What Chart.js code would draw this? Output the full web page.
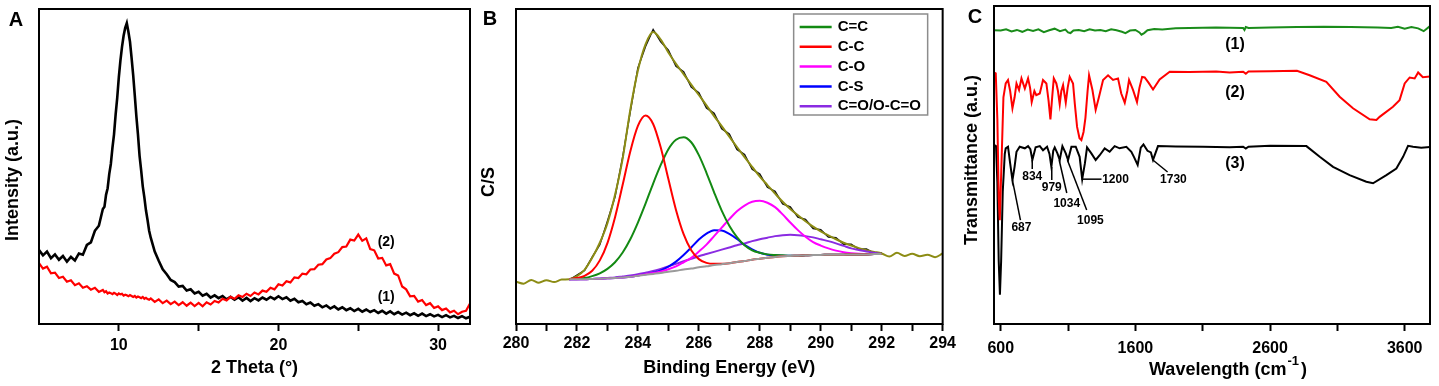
<!DOCTYPE html>
<html>
<head>
<meta charset="utf-8">
<script src="https://cdn.jsdelivr.net/npm/chart.js@4.4.1/dist/chart.umd.min.js"></script>
<style>
  html, body { margin: 0; padding: 0; background: #fff; }
  #wrap { position: relative; width: 1439px; height: 386px; overflow: hidden; }
  canvas { position: absolute; top: 0; }
</style>
</head>
<body>
<div id="wrap">
  <canvas id="chartA" width="480" height="386" style="left:0"></canvas>
  <canvas id="chartB" width="479" height="386" style="left:480px"></canvas>
  <canvas id="chartC" width="480" height="386" style="left:959px"></canvas>
</div>
<script>
// ——— Panel A: XRD patterns ———
const xrdTheta = [
  5, 5.25, 5.5, 5.75, 6, 6.25, 6.5, 6.75, 7, 7.25, 7.5, 7.75, 8, 8.25, 8.5, 8.75, 9,
  9.1, 9.2, 9.3, 9.4, 9.5, 9.6, 9.7, 9.8, 9.9, 10, 10.1, 10.2, 10.3, 10.4, 10.5, 10.6, 10.7, 10.8, 10.9,
  11, 11.1, 11.2, 11.3, 11.4, 11.5, 11.6, 11.7, 11.8, 11.9, 12,
  12.25, 12.5, 12.75, 13, 13.25, 13.5, 13.75, 14, 14.25, 14.5, 14.75, 15, 15.25, 15.5, 15.75, 16,
  16.25, 16.5, 16.75, 17, 17.25, 17.5, 17.75, 18, 18.25, 18.5, 18.75, 19, 19.25, 19.5, 19.75, 20,
  20.25, 20.5, 20.75, 21, 21.25, 21.5, 21.75, 22, 22.25, 22.5, 22.75, 23, 23.25, 23.5, 23.75, 24,
  24.25, 24.5, 24.75, 25, 25.25, 25.5, 25.75, 26, 26.25, 26.5, 26.75, 27, 27.25, 27.5, 27.75, 28,
  28.25, 28.5, 28.75, 29, 29.25, 29.5, 29.75, 30, 30.25, 30.5, 30.75, 31, 31.25, 31.5, 31.75, 32
];
const xrdSample1 = [
  23.5, 21.8, 23.0, 20.9, 22.1, 20.4, 21.6, 19.8, 21.3, 20.2, 22.4, 22.0, 25.1, 25.9, 29.6, 31.2, 36.5,
  37.2, 41.0, 43.1, 47.6, 50.8, 55.9, 60.2, 66.5, 71.8, 78.3, 83.6, 88.0, 91.5, 94.0, 95.5, 92.8, 89.6, 84.5, 79.0,
  72.6, 65.9, 60.1, 53.4, 48.8, 43.7, 40.2, 36.1, 33.0, 29.6, 27.4,
  23.0, 20.1, 17.4, 15.8, 14.0, 13.3, 11.9, 12.1, 10.6, 11.0, 9.7, 10.2, 9.0, 9.6, 8.4, 9.1,
  8.2, 8.9, 7.8, 8.6, 7.7, 8.5, 7.4, 8.3, 7.3, 8.2, 7.5, 8.4, 7.7, 8.6, 7.9, 8.8,
  7.9, 8.5, 7.4, 8.0, 6.9, 7.3, 6.3, 6.8, 5.8, 6.3, 5.3, 5.9, 4.9, 5.6, 4.6, 5.3,
  4.4, 5.0, 4.1, 4.8, 3.9, 4.6, 3.8, 4.4, 3.5, 4.2, 3.3, 4.0, 3.1, 3.8, 3.0, 3.6,
  2.8, 3.4, 2.6, 3.3, 2.5, 3.1, 2.4, 2.9, 2.2, 2.8, 2.1, 2.6, 1.9, 2.5, 1.8, 2.3
];
const xrdSample2 = [
  19.3, 17.6, 18.2, 16.1, 16.3, 14.6, 15.0, 13.4, 13.9, 12.3, 12.9, 11.5, 12.0, 10.9, 11.5, 10.2, 10.8,
  10.1, 10.4, 9.7, 10.0, 9.8, 9.5, 9.9, 9.6, 9.2, 9.7, 9.4, 9.6, 9.0, 9.3, 9.1, 8.8, 9.2, 8.9, 8.6,
  8.9, 8.4, 8.7, 8.5, 8.2, 8.6, 8.0, 8.3, 7.9, 7.7, 8.1,
  7.0, 7.8, 6.6, 7.4, 6.3, 7.1, 6.0, 6.9, 5.8, 6.8, 5.7, 6.7, 5.6, 6.9, 6.2, 7.3,
  6.8, 8.0, 7.5, 8.6, 8.0, 9.1, 8.6, 9.6, 8.9, 10.0, 9.4, 10.6, 10.2, 11.5, 11.0, 12.6,
  12.2, 13.6, 13.2, 14.8, 14.6, 16.0, 15.8, 17.3, 17.4, 18.8, 19.0, 20.5, 20.9, 22.3, 22.8, 24.4,
  24.6, 26.8, 26.5, 28.4, 26.4, 27.2, 23.8, 23.4, 20.8, 21.0, 18.6, 19.0, 16.0, 15.4, 11.9, 11.0,
  8.8, 8.9, 7.1, 7.6, 6.0, 6.6, 5.1, 5.6, 4.4, 4.9, 3.7, 4.2, 3.1, 3.9, 4.2, 6.5
];
const xrdTicks = [10, 15, 20, 25, 30];
const xrdTickLabels = [10, 20, 30];

// ——— Panel B: C1s XPS fit ———
const xpsEnergy = [
  280, 280.25, 280.5, 280.75, 281, 281.25, 281.5,
  281.75, 282, 282.25, 282.5, 282.75, 283, 283.25, 283.5, 283.75, 284, 284.25, 284.5, 284.75, 285,
  285.25, 285.5, 285.75, 286, 286.25, 286.5, 286.75, 287, 287.25, 287.5, 287.75, 288, 288.25, 288.5,
  288.75, 289, 289.25, 289.5, 289.75, 290, 290.25, 290.5, 290.75, 291, 291.25, 291.5, 291.75, 292,
  292.25, 292.5, 292.75, 293, 293.25, 293.5, 293.75, 294
];
const xpsEnvelope = [
  13.4, 12.8, 14.0, 13.1, 13.9, 13.3, 14.1,
  14.2, 15.2, 17.2, 21.0, 25.8, 32.0, 41.0, 52.5, 68.0, 80.5, 88.8, 92.7, 90.3, 86.2,
  82.6, 79.3, 76.0, 72.7, 69.4, 66.0, 62.8, 59.5, 56.2, 53.0, 49.9, 46.8, 44.1, 41.4,
  38.8, 36.5, 34.5, 32.6, 30.9, 29.4, 28.1, 26.9, 25.8, 24.9, 24.1, 23.4, 22.9, 22.4,
  21.4, 22.6, 21.6, 22.3, 21.5, 22.0, 21.2, 22.4
];
const xpsFitEnergy = [
  281.75, 282, 282.25, 282.5, 282.75, 283, 283.25, 283.5, 283.75, 284, 284.25, 284.5, 284.75, 285,
  285.25, 285.5, 285.75, 286, 286.25, 286.5, 286.75, 287, 287.25, 287.5, 287.75, 288, 288.25, 288.5,
  288.75, 289, 289.25, 289.5, 289.75, 290, 290.25, 290.5, 290.75, 291, 291.25, 291.5, 291.75, 292
];
const xpsRaw = [
  14.0, 15.5, 17.0, 21.2, 25.2, 32.6, 40.4, 53.0, 67.4, 81.3, 88.1, 93.5, 89.6, 86.9,
  81.8, 80.1, 75.2, 73.4, 68.6, 66.9, 62.0, 60.3, 55.4, 53.8, 49.1, 47.6, 43.4, 42.1,
  38.1, 37.2, 33.9, 33.2, 30.3, 29.9, 27.6, 27.4, 25.3, 25.3, 23.7, 23.8, 22.5, 22.6
];
const xpsBackground = [
  14.2, 14.2, 14.2, 14.3, 14.4, 14.5, 14.6, 14.8, 15.0, 15.3, 15.6, 15.9, 16.2, 16.6,
  16.9, 17.3, 17.6, 18.0, 18.3, 18.7, 19.0, 19.3, 19.7, 20.0, 20.4, 20.7, 21.0, 21.3,
  21.5, 21.6, 21.7, 21.8, 21.9, 21.9, 22.0, 22.0, 22.0, 22.1, 22.1, 22.1, 22.2, 22.2
];
const xpsCdC = [
  14.3, 14.4, 14.6, 15.2, 16.1, 17.5, 19.6, 22.7, 26.9, 32.2, 38.2, 44.6, 50.5, 55.5,
  58.5, 59.3, 57.7, 53.6, 48.0, 41.8, 36.0, 31.2, 27.6, 25.0, 23.4, 22.6, 22.1, 21.9,
  21.8, 21.7, 21.7, 21.8, 21.9, 21.9, 22.0, 22.0, 22.0, 22.1, 22.1, 22.1, 22.2, 22.2
];
const xpsCC = [
  14.3, 14.6, 15.3, 16.9, 20.2, 25.7, 33.9, 44.2, 54.8, 62.9, 66.2, 63.5, 56.0, 46.0,
  36.2, 28.5, 23.4, 20.6, 19.4, 19.1, 19.1, 19.3, 19.7, 20.0, 20.4, 20.7, 21.0, 21.3,
  21.5, 21.6, 21.7, 21.8, 21.9, 21.9, 22.0, 22.0, 22.0, 22.1, 22.1, 22.1, 22.2, 22.2
];
const xpsCO = [
  14.2, 14.2, 14.2, 14.3, 14.4, 14.5, 14.6, 14.8, 15.0, 15.4, 15.8, 16.2, 16.7, 17.4,
  18.3, 19.6, 21.0, 23.0, 25.2, 27.9, 30.6, 33.3, 35.8, 37.6, 38.8, 39.1, 38.5, 37.1,
  34.8, 32.2, 29.8, 27.7, 26.0, 24.9, 24.0, 23.3, 22.8, 22.5, 22.3, 22.2, 22.2, 22.2
];
const xpsCS = [
  14.2, 14.2, 14.2, 14.3, 14.4, 14.5, 14.6, 14.8, 15.0, 15.4, 15.8, 16.3, 17.0, 18.2,
  19.8, 21.9, 24.3, 26.8, 28.7, 29.8, 29.7, 28.6, 27.0, 25.1, 23.7, 22.6, 22.0, 21.8,
  21.7, 21.7, 21.7, 21.8, 21.9, 21.9, 22.0, 22.0, 22.0, 22.1, 22.1, 22.1, 22.2, 22.2
];
const xpsCOO = [
  14.2, 14.2, 14.3, 14.3, 14.4, 14.6, 14.8, 15.1, 15.4, 15.8, 16.3, 16.8, 17.5, 18.3,
  19.1, 19.9, 20.7, 21.5, 22.2, 22.9, 23.6, 24.3, 25.0, 25.6, 26.3, 26.9, 27.4, 27.9,
  28.2, 28.3, 28.2, 27.9, 27.5, 26.9, 26.3, 25.6, 24.8, 24.0, 23.5, 23.0, 22.6, 22.2
];
const xpsTicks = [280, 281, 282, 283, 284, 285, 286, 287, 288, 289, 290, 291, 292, 293, 294];
const xpsTickLabels = [280, 282, 284, 286, 288, 290, 292, 294];
const xpsLegendOrder = ["C=C", "C-C", "C-O", "C-S", "C=O/O-C=O"];

// ——— Panel C: FTIR spectra ———
const ftirWn1 = [
  553, 600, 640, 680, 720, 760, 800, 840, 880, 920, 960, 1000, 1040, 1080, 1100, 1118, 1140, 1180,
  1220, 1260, 1300, 1340, 1380, 1420, 1460, 1500, 1526, 1560, 1600, 1630, 1645, 1665, 1690, 1740,
  1800, 1900, 2000, 2100, 2200, 2300, 2400, 2410, 2420, 2440, 2600, 2800, 3000, 3200, 3400, 3500,
  3550, 3600, 3650, 3700, 3741, 3788
];
const ftirT1 = [
  93.3, 93.2, 93.6, 92.9, 93.4, 92.8, 93.5, 93.1, 93.6, 92.7, 93.3, 93.8, 93.0, 93.5, 92.6, 92.4, 93.2, 93.4,
  93.0, 93.6, 93.2, 93.4, 93.0, 93.6, 93.3, 92.8, 92.4, 93.2, 93.4, 92.6, 91.9, 92.4, 93.3, 93.7,
  93.5, 93.9, 94.0, 94.1, 94.2, 94.1, 94.0, 93.4, 94.3, 94.0, 94.2, 94.3, 94.4, 94.3, 94.2, 94.0,
  94.4, 93.8, 94.3, 93.9, 93.0, 94.6
];
const ftirWn2 = [
  553, 563, 575, 585, 593, 605, 620, 637, 654, 670, 687, 703, 717, 736, 754, 779, 803, 818, 830, 850,
  864, 890, 914, 939, 955, 969, 982, 994, 1013, 1025, 1038, 1050, 1063, 1083, 1097, 1112, 1137, 1150,
  1167, 1185, 1199, 1215, 1229, 1245, 1256, 1281, 1305, 1330, 1360, 1397, 1434, 1471, 1495, 1521,
  1540, 1553, 1583, 1612, 1630, 1650, 1669, 1700, 1731, 1780, 1855, 2000, 2200, 2300, 2400, 2420,
  2440, 2600, 2800, 2894, 3018, 3117, 3216, 3340, 3390, 3414, 3513, 3562, 3600, 3637, 3674, 3700,
  3735, 3788
];
const ftirT2 = [
  79.8, 79.6, 65, 40, 33, 50, 72, 76.4, 77.5, 74, 68.5, 72, 76.4, 74.3, 78, 74.8, 78, 75, 70.5, 74,
  72.7, 73.2, 77.5, 76.4, 71, 65, 72, 78, 76.4, 74, 69.8, 74, 75.9, 70.3, 75, 78.5, 76.4, 70,
  62.6, 59, 58.4, 61, 65.5, 74, 79, 74.3, 68, 72.2, 77.5, 79, 77.5, 78, 73.2, 70.3,
  74, 77.5, 74.3, 70.5, 75, 78.5, 78.3, 76.5, 74.5, 77.7, 80.1, 80.0, 80.2, 79.9, 80.1, 79.5,
  80.2, 80.3, 80.4, 79.0, 76.9, 72.2, 68.5, 65.0, 64.8, 65.8, 69.0, 71.1, 76.4, 78.3, 78.0, 79.9,
  78.4, 78.6
];
const ftirWn3 = [
  553, 565, 575, 585, 594, 603, 615, 630, 637, 654, 670, 687, 703, 717, 741, 779, 803, 820, 835, 859,
  890, 914, 944, 962, 976, 990, 1001, 1021, 1038, 1058, 1083, 1100, 1125, 1157, 1186, 1205, 1225, 1241,
  1273, 1305, 1335, 1372, 1409, 1446, 1483, 1533, 1570, 1590, 1617, 1640, 1660, 1690, 1715, 1731,
  1768, 1900, 2100, 2300, 2400, 2420, 2440, 2600, 2870, 2969, 3068, 3191, 3315, 3365, 3464, 3538,
  3588, 3625, 3662, 3723, 3788
];
const ftirT3 = [
  56.8, 56.5, 45, 20, 9.3, 20, 42, 54, 55.8, 56.3, 51, 45.7, 50, 54.7, 56.3, 55.8, 56.5, 55.5, 52.1, 56.1,
  56.5, 55.2, 56.3, 54, 49.9, 55, 56.1, 54.2, 52.1, 56.5, 54.2, 52.1, 56.3, 56.3, 53.1, 46.0, 51, 56.1,
  54.2, 52.1, 53.6, 55.8, 54.7, 56.5, 55.8, 56.3, 54.7, 53, 50.5, 56, 57, 55, 54.5, 52.1,
  56.5, 56.4, 56.3, 56.1, 56.3, 55.7, 56.3, 56.6, 56.5, 53.1, 49.9, 47.3, 45.2, 44.7, 47.3, 49.4,
  53.1, 56.6, 56.3, 56.0, 56.2
];
const ftirPeakLabels = [687, 834, 979, 1034, 1095, 1200, 1730];
const ftirTicks = [600, 1100, 1600, 2100, 2600, 3100, 3600];
const ftirTickLabels = [600, 1600, 2600, 3600];

// ——— helpers ———
const FONT = '"Liberation Sans", Arial, Helvetica, sans-serif';
Chart.defaults.font.family = FONT;
Chart.defaults.color = "#000";

const xy = (xs, ys) => xs.map((x, i) => ({ x, y: ys[i] }));

function text(ctx, s, x, y, size, align = "center") {
  ctx.font = `bold ${size}px ${FONT}`;
  ctx.textAlign = align;
  ctx.textBaseline = "middle";
  ctx.fillText(s, x, y);
}

function line(label, xs, ys, color, order, width = 2, smooth = false) {
  return {
    label, data: xy(xs, ys), borderColor: color, borderWidth: width, order,
    pointRadius: 0, fill: false, tension: 0,
    cubicInterpolationMode: smooth ? "monotone" : "default"
  };
}

function scales(o) {
  return {
    x: {
      type: "linear", min: o.min, max: o.max,
      afterBuildTicks: s => { s.ticks = o.ticks.map(v => ({ value: v })); },
      afterFit: s => { s.height = 62; },
      ticks: {
        callback: v => o.labels.includes(v) ? String(v) : "",
        autoSkip: false, maxRotation: 0, padding: o.pad,
        font: { size: 16, weight: "bold" }, color: "#000"
      },
      grid: { drawOnChartArea: false, drawTicks: true, tickLength: 7, tickWidth: 2, tickColor: "#000" },
      border: { display: false },
      title: {
        display: !!o.title, text: o.title || "", color: "#000",
        font: { size: 18, weight: "bold" }, padding: { top: 0, bottom: 7 }
      }
    },
    y: {
      min: 0, max: o.ymax,
      afterFit: s => { s.width = o.left; },
      ticks: { display: false },
      grid: { display: false },
      border: { display: false }
    }
  };
}

// frame, panel letter, y title, curve labels, extras
function decor(cfg) {
  return {
    id: "decor" + cfg.letter,
    afterDraw(chart) {
      const { ctx, chartArea: a, scales: s } = chart;
      ctx.save();
      ctx.strokeStyle = "#000";
      ctx.lineWidth = 2;
      ctx.strokeRect(a.left, a.top, a.right - a.left, a.bottom - a.top);
      ctx.fillStyle = "#000";
      text(ctx, cfg.letter, cfg.letterAt[0], cfg.letterAt[1], 20);
      ctx.save();
      ctx.translate(cfg.yTitleAt[0], cfg.yTitleAt[1]);
      ctx.rotate(-Math.PI / 2);
      text(ctx, cfg.yTitle, 0, 0, 18);
      ctx.restore();
      (cfg.notes || []).forEach(n =>
        text(ctx, n.text, s.x.getPixelForValue(n.x), s.y.getPixelForValue(n.y), n.size));
      if (cfg.extra) cfg.extra(chart);
      ctx.restore();
    }
  };
}

function baseOptions(o) {
  return {
    responsive: false,
    animation: false,
    layout: { padding: { left: 0, top: o.top, right: o.right, bottom: 0 } },
    plugins: { legend: { display: false }, tooltip: { enabled: false } },
    scales: scales(o)
  };
}

// ——— A ———
new Chart(document.getElementById("chartA"), {
  type: "line",
  data: {
    datasets: [
      line("(2)", xrdTheta, xrdSample2, "#ff0000", 0, 2.2),
      line("(1)", xrdTheta, xrdSample1, "#000000", 1, 2.6)
    ]
  },
  options: baseOptions({
    min: 5, max: 32, ticks: xrdTicks, labels: xrdTickLabels, pad: 5,
    title: "2 Theta (°)", ymax: 100, left: 39, top: 9, right: 10
  }),
  plugins: [decor({
    letter: "A", letterAt: [16, 20], yTitle: "Intensity (a.u.)", yTitleAt: [13, 180],
    notes: [
      { text: "(2)", x: 26.75, y: 26, size: 14 },
      { text: "(1)", x: 26.75, y: 8.6, size: 14 }
    ]
  })]
});

// ——— B ———
function drawLegend(chart) {
  const { ctx, chartArea: a } = chart;
  const items = xpsLegendOrder.map(l => chart.data.datasets.find(d => d.label === l));
  const w = 134, h = 101, left = a.right - 15 - w, top = a.top + 5;
  ctx.fillStyle = "#fff";
  ctx.fillRect(left, top, w, h);
  ctx.strokeStyle = "#8c8c8c";
  ctx.lineWidth = 1.5;
  ctx.strokeRect(left, top, w, h);
  items.forEach((d, i) => {
    const yy = top + 13 + i * 19.8;
    ctx.strokeStyle = d.borderColor;
    ctx.lineWidth = 2.5;
    ctx.beginPath();
    ctx.moveTo(left + 6, yy);
    ctx.lineTo(left + 38, yy);
    ctx.stroke();
    ctx.fillStyle = "#000";
    text(ctx, d.label, left + 44, yy, 15, "left");
  });
}

new Chart(document.getElementById("chartB"), {
  type: "line",
  data: {
    datasets: [
      line("raw", xpsFitEnergy, xpsRaw, "#111111", 9, 1.5),
      line("envelope", xpsEnergy, xpsEnvelope, "#8c8c14", 8, 2, true),
      line("C=O/O-C=O", xpsFitEnergy, xpsCOO, "#8a2be2", 6, 2, true),
      line("C-S", xpsFitEnergy, xpsCS, "#0000ff", 5, 2, true),
      line("C-O", xpsFitEnergy, xpsCO, "#ff00ff", 4, 2, true),
      line("C=C", xpsFitEnergy, xpsCdC, "#138a13", 3, 2, true),
      line("C-C", xpsFitEnergy, xpsCC, "#ff0000", 2, 2, true),
      line("background", xpsFitEnergy, xpsBackground, "#9a9a9a", 1, 2, true)
    ]
  },
  options: baseOptions({
    min: 280, max: 294, ticks: xpsTicks, labels: xpsTickLabels, pad: 3,
    title: "Binding Energy (eV)", ymax: 100, left: 36, top: 9, right: 13
  }),
  plugins: [decor({
    letter: "B", letterAt: [10, 19], yTitle: "C/S", yTitleAt: [9, 182], extra: drawLegend
  })]
});

// ——— C ———
// leader line end (dx, dy) and label centre (dx, dy), relative to the marked dip
const leaderOffsets = [
  [8, 40, 9, 48], [0, 9, 0, 17], [0, 13, 0, 21], [7.6, 33, 7.6, 44],
  [19.3, 50, 23, 61], [20, 0, 34, 1], [14.7, 12, 20.5, 20]
];

function nearestIndex(xs, v) {
  let best = 0;
  xs.forEach((x, i) => { if (Math.abs(x - v) < Math.abs(xs[best] - v)) best = i; });
  return best;
}

function drawFtirExtras(chart) {
  const { ctx, chartArea: a, scales: { x, y } } = chart;
  ctx.strokeStyle = "#000";
  ctx.lineWidth = 1.5;
  ctx.fillStyle = "#000";
  ftirPeakLabels.forEach((wn, i) => {
    const px = x.getPixelForValue(wn);
    const py = y.getPixelForValue(ftirT3[nearestIndex(ftirWn3, wn)]);
    const [ex, ey, tx, ty] = leaderOffsets[i];
    ctx.beginPath();
    ctx.moveTo(px, py);
    ctx.lineTo(px + ex, py + ey);
    ctx.stroke();
    text(ctx, String(wn), px + tx, py + ty, 12);
  });

  // x title with superscript
  const main = "Wavelength (cm", sup = "-1", close = ")";
  ctx.font = `bold 18px ${FONT}`;
  const w1 = ctx.measureText(main).width, w3 = ctx.measureText(close).width;
  ctx.font = `bold 13px ${FONT}`;
  const w2 = ctx.measureText(sup).width;
  const x0 = (a.left + a.right) / 2 + 16 - (w1 + w2 + w3 + 3) / 2;
  const base = 375;
  ctx.textAlign = "left";
  ctx.textBaseline = "alphabetic";
  ctx.font = `bold 18px ${FONT}`;
  ctx.fillText(main, x0, base);
  ctx.font = `bold 13px ${FONT}`;
  ctx.fillText(sup, x0 + w1 + 1, base - 10);
  ctx.font = `bold 18px ${FONT}`;
  ctx.fillText(close, x0 + w1 + w2 + 3, base);
}

new Chart(document.getElementById("chartC"), {
  type: "line",
  data: {
    datasets: [
      line("(1)", ftirWn1, ftirT1, "#1a8c1a", 0, 2),
      line("(2)", ftirWn2, ftirT2, "#ff0000", 1, 2),
      line("(3)", ftirWn3, ftirT3, "#000000", 2, 2)
    ]
  },
  options: baseOptions({
    min: 550, max: 3788, ticks: ftirTicks, labels: ftirTickLabels, pad: 8,
    title: "", ymax: 101, left: 35, top: 6, right: 9
  }),
  plugins: [decor({
    letter: "C", letterAt: [16, 17], yTitle: "Transmittance (a.u.)", yTitleAt: [13, 160],
    notes: [
      { text: "(1)", x: 2340, y: 88.9, size: 16 },
      { text: "(2)", x: 2340, y: 73.6, size: 16 },
      { text: "(3)", x: 2340, y: 50.9, size: 16 }
    ],
    extra: drawFtirExtras
  })]
});
</script>
</body>
</html>
